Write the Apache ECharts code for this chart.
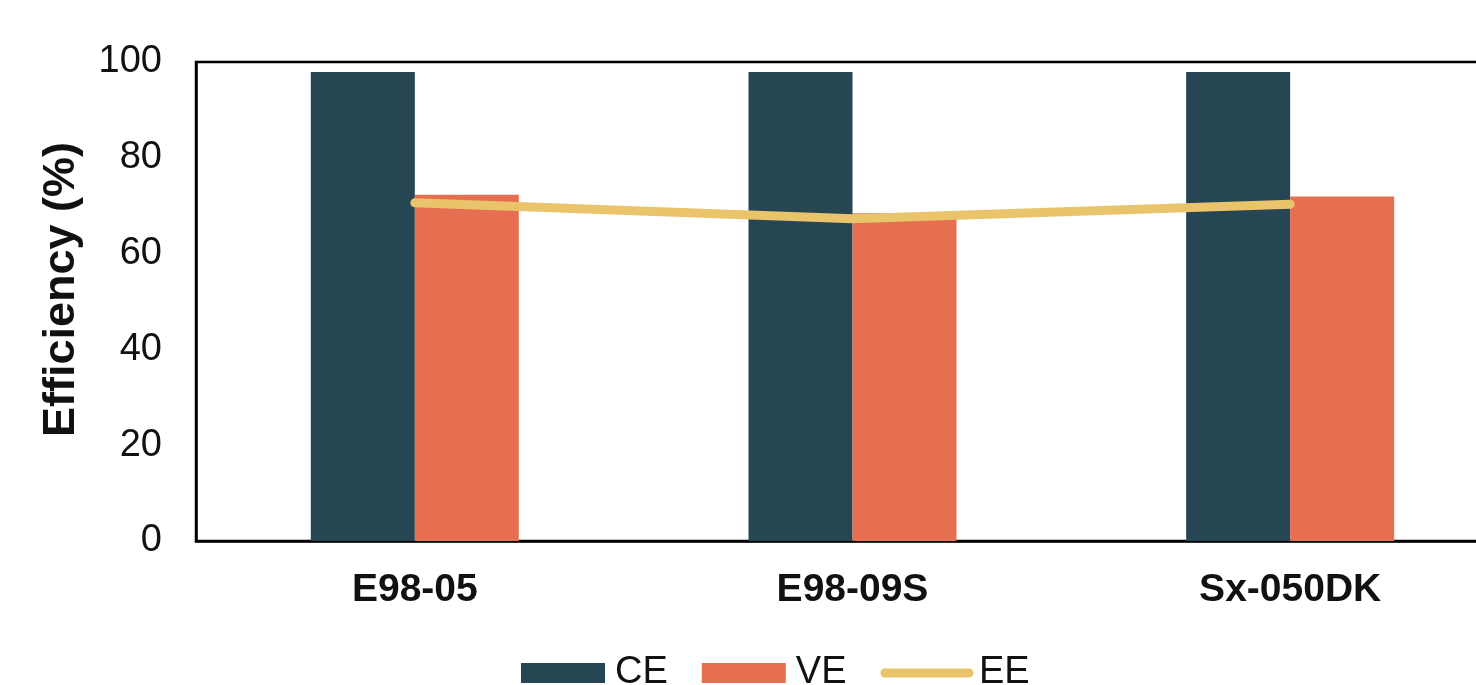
<!DOCTYPE html>
<html>
<head>
<meta charset="utf-8">
<script src="https://cdn.jsdelivr.net/npm/echarts@6/dist/echarts.min.js"></script>
<style>
  html, body { margin: 0; padding: 0; background: #fff; overflow: hidden; }
  /* the plot frame runs past the right edge of the picture, so the canvas is wider than the window */
  #main { width: 1509px; height: 685px; }
</style>
</head>
<body>
<div id="main"></div>
<script>
    // data
    var categories = ['E98-05', 'E98-09S', 'Sx-050DK'];
    var ceValues = [97.9, 97.9, 97.9];
    var veValues = [72.3, 68.4, 71.9];
    var eeValues = [70.6, 67.3, 70.3];
    var yTicks = [0, 20, 40, 60, 80, 100];

    var chart = echarts.init(document.getElementById('main'));
    var font = 'Liberation Sans, Arial, sans-serif';
    var options = {
        animation: false,
        grid: {
            left: 196,
            right: 0,
            top: 62,
            bottom: 144,
            show: true,
            borderColor: '#000',
            borderWidth: 2.5
        },
        legend: {
            top: 649,
            left: 516,
            itemWidth: 84,
            itemHeight: 20,
            itemGap: 34,
            textStyle: { fontFamily: font, fontSize: 38, color: '#111', padding: [0, 0, 0, 5] },
            data: [
                { name: 'CE', icon: 'rect' },
                { name: 'VE', icon: 'rect' },
                { name: 'EE', itemStyle: { opacity: 0 }, lineStyle: { width: 9, cap: 'round', color: '#e9c46a' } }
            ]
        },
        xAxis: {
            type: 'category',
            data: categories,
            axisLine: { lineStyle: { color: '#000', width: 2.5 } },
            axisTick: { show: false },
            axisLabel: {
                margin: 30,
                fontFamily: font,
                fontSize: 39,
                fontWeight: 'bold',
                color: '#111'
            }
        },
        yAxis: {
            type: 'value',
            min: yTicks[0],
            max: yTicks[yTicks.length - 1],
            interval: 20,
            name: 'Efficiency (%)',
            nameLocation: 'middle',
            nameGap: 112,
            nameTextStyle: { fontFamily: font, fontSize: 45, fontWeight: 'bold', color: '#111', padding: [0, 0, 0, 24] },
            axisLine: { show: true, lineStyle: { color: '#000', width: 2.5 } },
            axisTick: { show: false },
            splitLine: { show: false },
            axisLabel: { margin: 34, fontFamily: font, fontSize: 38, color: '#111', padding: [5, 0, 0, 0] }
        },
        series: [
            {
                name: 'CE',
                type: 'bar',
                data: ceValues,
                barWidth: 104,
                barGap: '0%',
                itemStyle: { color: '#264653' }
            },
            {
                name: 'VE',
                type: 'bar',
                data: veValues,
                barWidth: 104,
                barGap: '0%',
                itemStyle: { color: '#e76f51' }
            },
            {
                name: 'EE',
                type: 'line',
                data: eeValues,
                symbol: 'none',
                lineStyle: { color: '#e9c46a', width: 9, cap: 'round' },
                itemStyle: { color: '#e9c46a' },
                z: 5
            }
        ]
    };
    chart.setOption(options, true);
</script>
</body>
</html>
